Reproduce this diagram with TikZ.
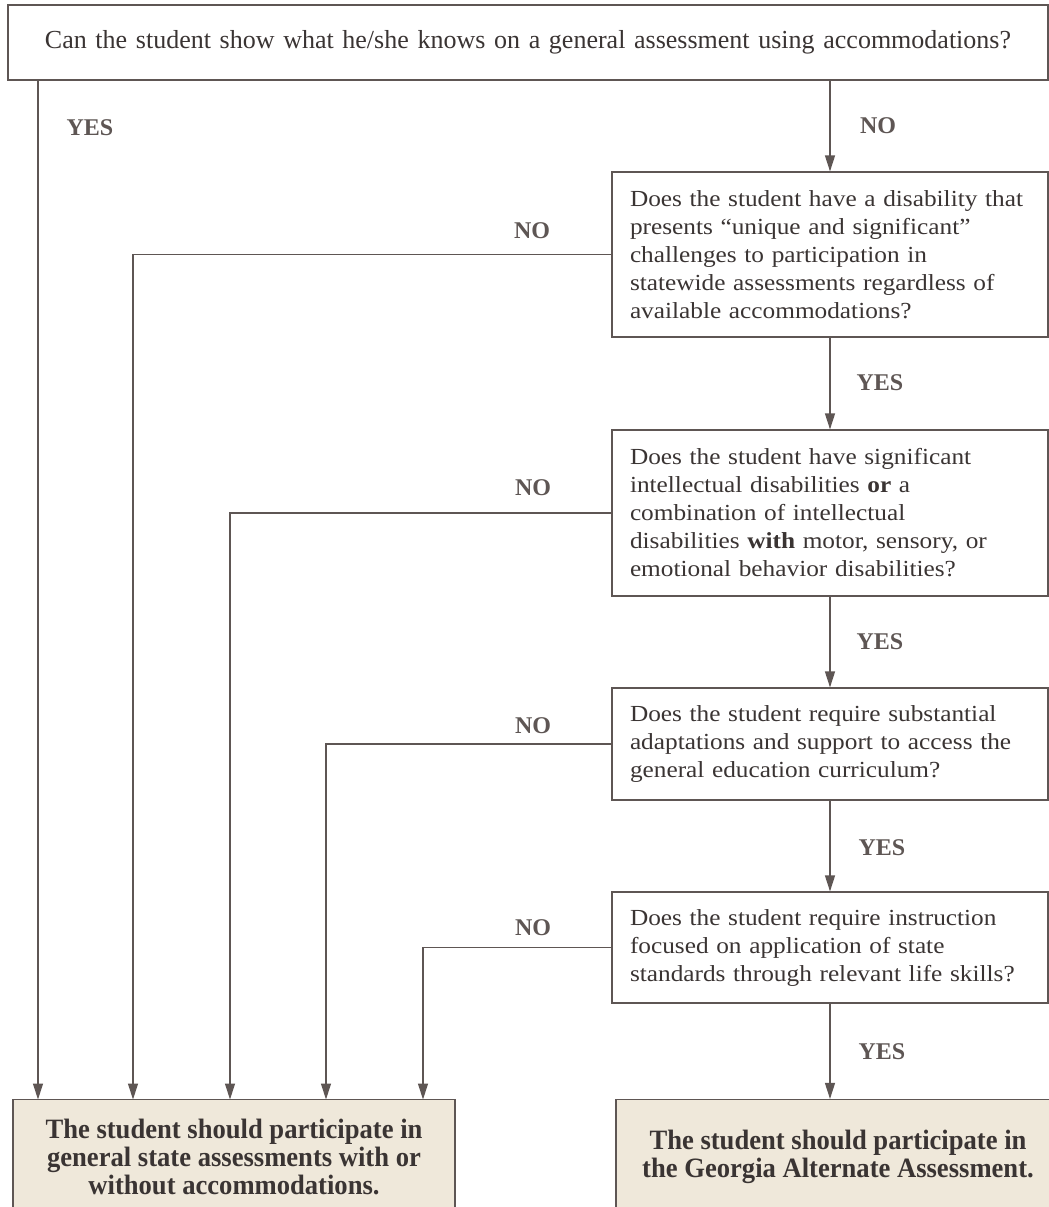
\documentclass[tikz,border=0pt]{standalone}
\usepackage{fontspec}
\setmainfont{Liberation Serif}
\newfontfamily\bodyfont[FakeStretch=1.1]{Liberation Serif}
\newfontfamily\endfont[FakeStretch=0.95]{Liberation Serif}
\usetikzlibrary{arrows.meta}
\definecolor{linegray}{HTML}{5E5654}
\definecolor{inkgray}{HTML}{3A3433}
\definecolor{paper}{HTML}{EFE8DA}

\begin{document}
\begin{tikzpicture}[
    x=0.5pt, y=-0.5pt,
    qbox/.style={draw=linegray, line width=0.6pt, fill=white, text=inkgray, align=left,
                 text width=200pt, inner xsep=9pt, inner ysep=0pt, minimum width=218pt,
                 font=\bodyfont\fontsize{11.5}{14}\selectfont},
    endbox/.style={draw=linegray, line width=0.6pt, fill=paper, text=inkgray, align=center,
                   inner sep=0pt, minimum height=57.5pt,
                   font=\endfont\bfseries\fontsize{14}{14.2}\selectfont},
    answer/.style={text=linegray, inner sep=0pt, font=\bfseries\fontsize{12}{14}\selectfont},
    arrow/.style={-{Triangle[length=8pt,width=5pt]}, draw=linegray, line width=0.6pt}
]
\clip (0,0) rectangle (1049,1207);
\fill[white] (0,0) rectangle (1049,1207);

\node[qbox, text width=502pt, minimum width=520pt, minimum height=37.5pt, align=center,
      font=\fontsize{13}{14}\selectfont] (q1) at (528,42.5)
  {Can the student show what he/she knows on a general assessment using accommodations?};
\node[qbox, minimum height=82.5pt] (q2) at (830,254.5)
  {Does the student have a disability that\\presents “unique and significant”\\challenges to participation in\\statewide assessments regardless of\\available accommodations?};
\node[qbox, minimum height=83pt] (q3) at (830,513)
  {Does the student have significant\\intellectual disabilities \textbf{or} a\\combination of intellectual\\disabilities \textbf{with} motor, sensory, or\\emotional behavior disabilities?};
\node[qbox, minimum height=56pt] (q4) at (830,744)
  {Does the student require substantial\\adaptations and support to access the\\general education curriculum?};
\node[qbox, minimum height=55.5pt] (q5) at (830,947.5)
  {Does the student require instruction\\focused on application of state\\standards through relevant life skills?};

\node[endbox, minimum width=221pt] (gen) at (234,1157)
  {The student should participate in\\general state assessments with or\\without accommodations.};
\node[endbox, minimum width=222pt] (gaa) at (838,1157)
  {The student should participate in\\the Georgia Alternate Assessment.};

\foreach \x [count=\i] in {38,133,230,326,423}
  \coordinate (in\i) at (\x,1099.5);

\draw[arrow] (q1.south -| in1) -- (in1);
\draw[arrow] (q1.south -| q2.north) -- (q2.north);
\draw[arrow] (q2.south) -- (q3.north);
\draw[arrow] (q3.south) -- (q4.north);
\draw[arrow] (q4.south) -- (q5.north);
\draw[arrow] (q5.south) -- (q5.south |- gaa.north);
\draw[arrow] (q2.west) -| (in2);
\draw[arrow] (q3.west) -| (in3);
\draw[arrow] (q4.west) -| (in4);
\draw[arrow] (q5.west) -| (in5);

\node[answer] (yes1) at (90,128) {YES};
\node[answer] (no1) at (878,126) {NO};
\node[answer] (no2) at (532,231) {NO};
\node[answer] (yes2) at (880,383) {YES};
\node[answer] (no3) at (533,488) {NO};
\node[answer] (yes3) at (880,642) {YES};
\node[answer] (no4) at (533,726) {NO};
\node[answer] (yes4) at (882,848) {YES};
\node[answer] (no5) at (533,928) {NO};
\node[answer] (yes5) at (882,1052) {YES};
\end{tikzpicture}
\end{document}
